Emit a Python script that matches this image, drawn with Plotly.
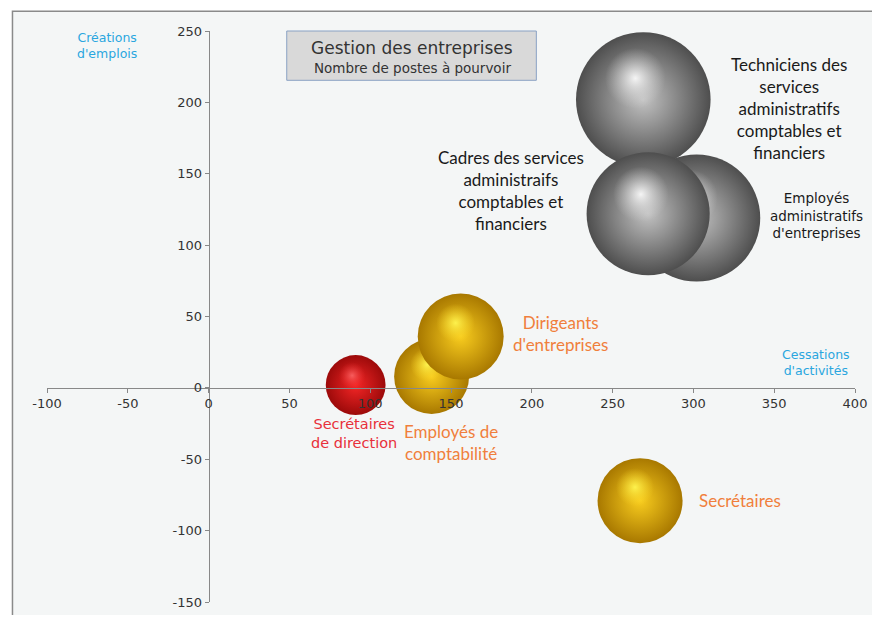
import plotly.graph_objects as go
import math

# métiers, dans l'ordre de dessin (du fond vers l'avant)
metiers = ["Employés administratifs d'entreprises",
           "Techniciens des services administratifs comptables et financiers",
           "Cadres des services administratifs comptables et financiers",
           "Secrétaires de direction",
           "Employés de comptabilité",
           "Dirigeants d'entreprises",
           "Secrétaires"]
cessations = [302, 269, 272, 91, 138, 156, 267]
creations = [119, 202, 122, 2, 8, 36, -79]
postes = [421, 471, 394, 93, 146, 192, 188]
groupe = ["gris", "gris", "gris", "rouge", "jaune", "jaune", "jaune"]

x_ticks = [-100, -50, 0, 50, 100, 150, 200, 250, 300, 350, 400]
x_labels = ["-100", "-50", "0", "50", "100", "150", "200", "250", "300", "350", "400"]
y_ticks = [-150, -100, -50, 0, 50, 100, 150, 200, 250]
y_labels = ["-150", "-100", "-50", "0", "50", "100", "150", "200", "250"]

# couleurs "sphère": bord, centre, reflet (bord transparent, centre)
palette = {
    "gris": ("#4e4e4e", "#c2c2c2", "rgba(210,210,210,0)", "rgba(255,255,255,0.9)"),
    "jaune": ("#a87800", "#f8cc1e", "rgba(250,215,40,0)", "rgba(255,245,80,0.95)"),
    "rouge": ("#9c0a0a", "#f42626", "rgba(240,50,50,0)", "rgba(255,110,110,0.8)"),
}

SIZEREF = 0.052
# la page ajoute une marge de 8 px autour de la figure
W, H = 864, 607
ML, MR, MT, MB = 39, 6, 23, 5
XR, YR = [-100, 400], [-150, 250]
px_x = (W - ML - MR) / (XR[1] - XR[0])
px_y = (H - MT - MB) / (YR[1] - YR[0])

fig = go.Figure()
for nom, x, y, p, g in zip(metiers, cessations, creations, postes, groupe):
    c_edge, c_mid, h_edge, h_mid = palette[g]
    fig.add_trace(go.Scatter(
        x=[x], y=[y], mode="markers", name=nom, hoverinfo="text",
        text=[f"{nom}<br>Cessations: {x}<br>Créations: {y}<br>Postes: {p}"],
        marker=dict(size=[p], sizemode="area", sizeref=SIZEREF, color=c_edge,
                    opacity=1, line=dict(width=0),
                    gradient=dict(type="radial", color=c_mid))))
    # petit reflet décalé vers le haut-gauche
    r = math.sqrt(p / (2 * SIZEREF))
    fig.add_trace(go.Scatter(
        x=[x - 0.12 * r / px_x], y=[y + 0.32 * r / px_y], mode="markers",
        hoverinfo="skip",
        marker=dict(size=[r * 0.9], color=h_edge, opacity=1, line=dict(width=0),
                    gradient=dict(type="radial", color=h_mid))))

cg = "DejaVu Sans"
cal = "Lato"
blue = "#2aa6df"
orange = "#f07f3c"

annots = [
    dict(x=359, y=196, text="Techniciens des<br>services<br>administratifs<br>comptables et<br>financiers",
         font=dict(family=cal, size=17, color="#1a1a1a")),
    dict(x=187, y=138, text="Cadres des services<br>administraifs<br>comptables et<br>financiers",
         font=dict(family=cal, size=17, color="#1a1a1a")),
    dict(x=376, y=121, text="Employés<br>administratifs<br>d'entreprises",
         font=dict(family=cg, size=13.5, color="#1a1a1a")),
    dict(x=218, y=38, text="Dirigeants<br>d'entreprises",
         font=dict(family=cal, size=17, color=orange)),
    dict(x=150, y=-38, text="Employés de<br>comptabilité",
         font=dict(family=cal, size=17, color=orange)),
    dict(x=90, y=-32, text="Secrétaires<br>de direction",
         font=dict(family=cg, size=14.5, color="#e8303a")),
    dict(x=329, y=-79, text="Secrétaires",
         font=dict(family=cal, size=17, color=orange)),
    dict(x=-63, y=240, text="Créations<br>d'emplois",
         font=dict(family=cg, size=12.5, color=blue)),
    dict(x=376, y=18, text="Cessations<br>d'activités",
         font=dict(family=cg, size=12.5, color=blue)),
]
for a in annots:
    a.update(xref="x", yref="y", showarrow=False, align="center",
             xanchor="center", yanchor="middle")

pw, ph = W - ML - MR, H - MT - MB
# conversion px (écran, référence) -> coordonnées paper
def px2paper_x(v):
    return (v - 8 - ML) / pw
def px2paper_y(v):
    return (H - MB - (v - 8)) / ph

annots += [
    dict(xref="paper", yref="paper", x=px2paper_x(417), y=px2paper_y(48),
         text="Gestion des entreprises", showarrow=False, xanchor="center", yanchor="middle",
         font=dict(family=cg, size=17, color="#333333")),
    dict(xref="paper", yref="paper", x=px2paper_x(417), y=px2paper_y(69),
         text="Nombre de postes à pourvoir", showarrow=False, xanchor="center", yanchor="middle",
         font=dict(family=cg, size=13.5, color="#333333")),
]

shapes = [
    dict(type="rect", xref="paper", yref="paper", layer="below",
         x0=px2paper_x(12), x1=px2paper_x(900), y0=px2paper_y(660), y1=px2paper_y(11),
         fillcolor="#f4f6f6", line=dict(color="#8a8a8a", width=1.5)),
    dict(type="rect", xref="paper", yref="paper", layer="above",
         x0=px2paper_x(290), x1=px2paper_x(543), y0=px2paper_y(81), y1=px2paper_y(31),
         fillcolor="#d9d9d9", line=dict(color="#8aa2c4", width=1)),
]

axis_common = dict(showgrid=False, zeroline=False, showline=True, linecolor="#888888",
                   linewidth=1, ticks="outside", ticklen=4, tickcolor="#888888",
                   ticklabeloverflow="allow",
                   tickfont=dict(family=cg, size=13, color="#333333"), anchor="free")

fig.update_layout(
    width=W, height=H, showlegend=False,
    margin=dict(l=ML, r=MR, t=MT, b=MB),
    paper_bgcolor="white", plot_bgcolor="rgba(0,0,0,0)",
    xaxis=dict(range=XR, tickvals=x_ticks, ticktext=x_labels,
               position=(0 - YR[0]) / (YR[1] - YR[0]), **axis_common),
    yaxis=dict(range=YR, tickvals=y_ticks, ticktext=y_labels,
               position=(0 - XR[0]) / (XR[1] - XR[0]), **axis_common),
    annotations=annots, shapes=shapes,
)

fig.write_html("out.html")
